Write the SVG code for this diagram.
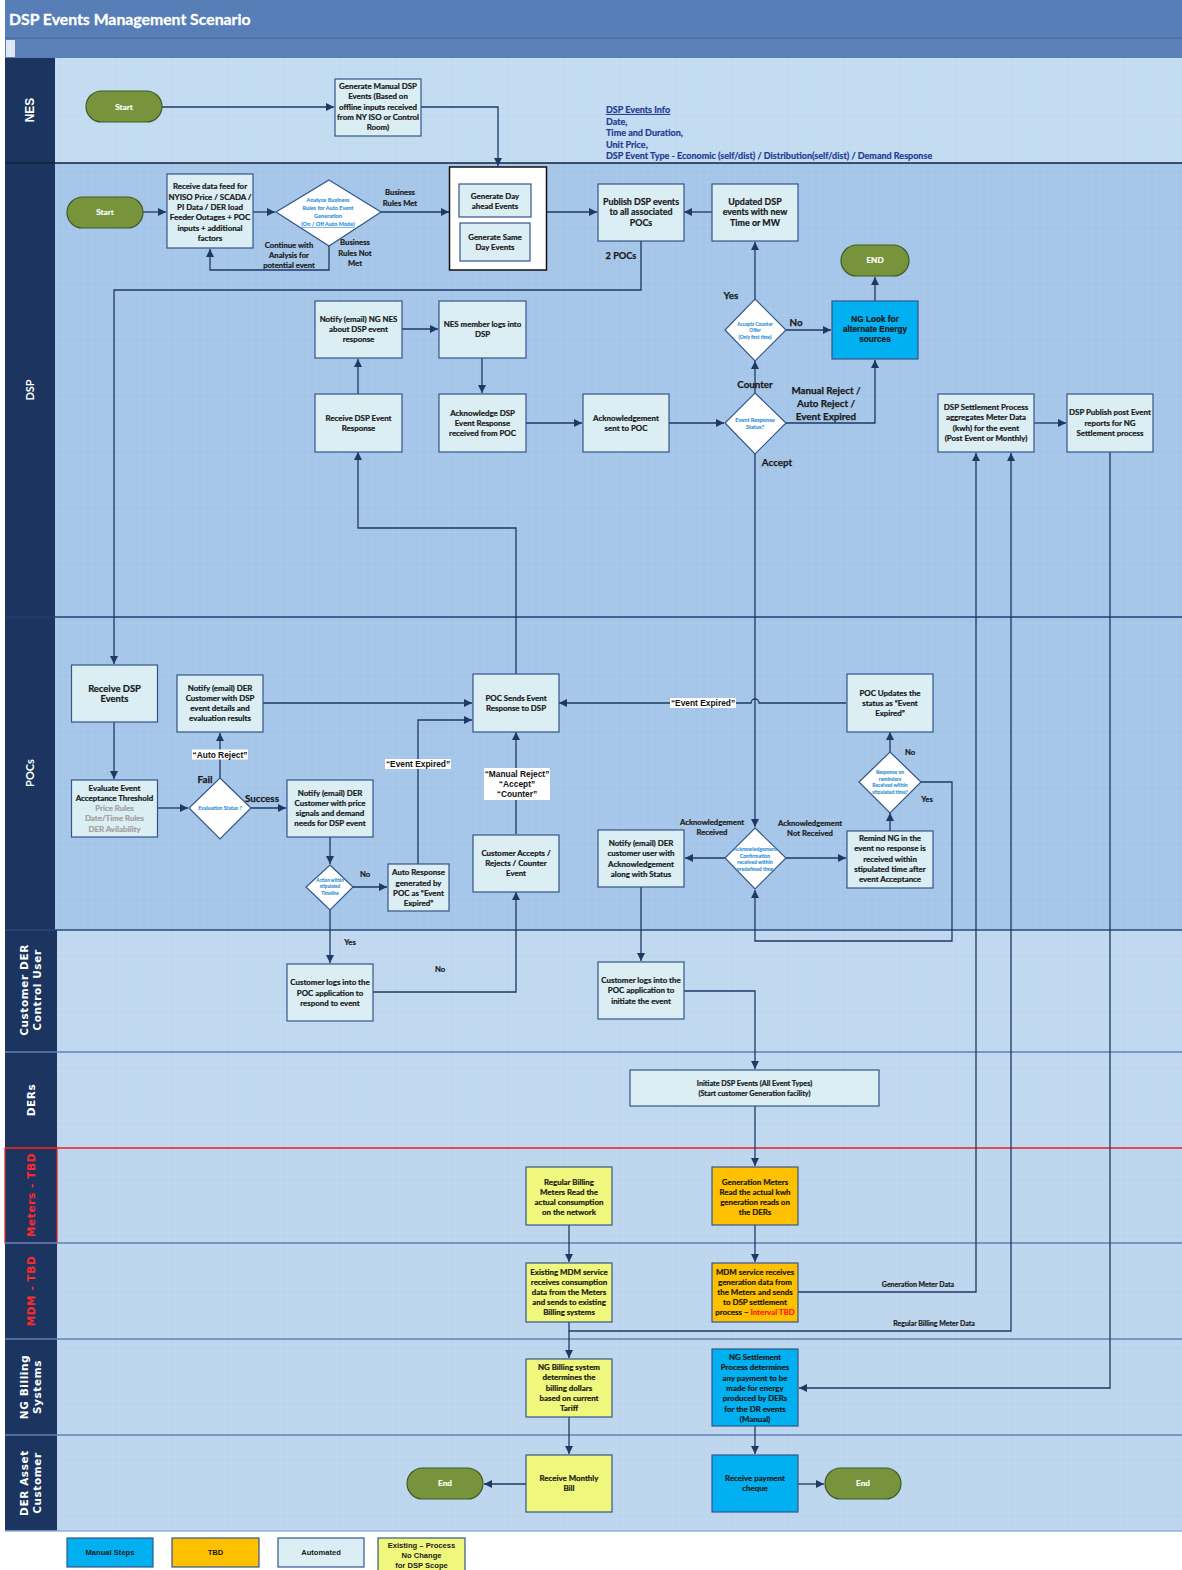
<svg xmlns="http://www.w3.org/2000/svg" width="1182" height="1570" viewBox="0 0 1182 1570">
<defs>
<style>
.box{fill:#dbeef4;stroke:#34558a;stroke-width:1.2}
.man{fill:#00b0f0}
.tbd{fill:#ffc000}
.ex{fill:#eff87c}
.dia{fill:#ffffff;stroke:#34558a;stroke-width:1.2}
.term{fill:#77933c;stroke:#3f5a28;stroke-width:1.2}
.t{font-family:Lato,"Liberation Sans",sans-serif;font-weight:bold;font-size:7.9px;fill:#1a1a1a;stroke:#1a1a1a;stroke-width:0.22;text-anchor:middle}
.tb{font-size:8.9px}
.tw{fill:#ffffff;stroke:#ffffff;font-size:8.2px}
.dt{font-family:Lato,"Liberation Sans",sans-serif;font-weight:bold;font-size:5.6px;fill:#2e8fd6;stroke:#2e8fd6;stroke-width:0.1;text-anchor:middle}
.gr{fill:#a0a0a0;stroke:#a0a0a0}
.lb{font-family:Lato,"Liberation Sans",sans-serif;font-weight:bold;font-size:9.8px;fill:#1a1a1a;stroke:#1a1a1a;stroke-width:0.25;text-anchor:middle}
.ls{font-family:Lato,"Liberation Sans",sans-serif;font-weight:bold;font-size:7.7px;fill:#1a1a1a;stroke:#1a1a1a;stroke-width:0.2;text-anchor:middle}
.ql{font-family:"Liberation Sans",Arial,sans-serif;font-weight:bold;font-size:8.4px;fill:#111;text-anchor:middle}
.c{fill:none;stroke:#1f3864;stroke-width:1.3;marker-end:url(#a)}
.hd{fill:#1b3560}
.hl{font-family:"DejaVu Sans",Verdana,sans-serif;font-weight:bold;font-size:10.5px;fill:#ffffff;text-anchor:middle;letter-spacing:0.6px}
.info{font-family:Lato,"Liberation Sans",sans-serif;font-weight:bold;font-size:9px;fill:#1f3a93;stroke:#1f3a93;stroke-width:0.2}
.lg{font-family:"Liberation Sans",Arial,sans-serif;font-weight:bold;font-size:7.6px;fill:#1a1a1a;text-anchor:middle}
</style>
<marker id="a" markerUnits="userSpaceOnUse" markerWidth="9" markerHeight="9" refX="8" refY="4" orient="auto">
<path d="M0,0 L8,4 L0,8 z" fill="#1f3864"/>
</marker>
<pattern id="g" width="7" height="7" patternUnits="userSpaceOnUse">
<path d="M7,0 H0 V7" fill="none" stroke="#ffffff" stroke-opacity="0.16" stroke-width="0.6"/>
</pattern>
</defs>

<rect x="0" y="0" width="1182" height="1570" fill="#ffffff"/>

<g id="title">
<rect x="5" y="0" width="1177" height="38" fill="#577eb6"/>
<rect x="5" y="38" width="1177" height="20" fill="#5a80b7"/>
<line x1="5" y1="38" x2="1182" y2="38" stroke="#46699e" stroke-width="1"/>
<rect x="6" y="40" width="9" height="17" fill="#dde8f4"/>
<text x="9" y="24.5" font-family="Lato,'Liberation Sans',sans-serif" font-weight="bold" font-size="15.8px" fill="#ffffff" stroke="#ffffff" stroke-width="0.3">DSP Events Management Scenario</text>
</g>

<g id="lanes">
<rect x="55" y="58" width="1127" height="105" fill="#c3dbf1"/>
<rect x="55" y="163" width="1127" height="454" fill="#a5c6e9"/>
<rect x="55" y="617" width="1127" height="313" fill="#a5c6e9"/>
<rect x="55" y="930" width="1127" height="122" fill="#c0d8ef"/>
<rect x="55" y="1052" width="1127" height="96" fill="#c0d8ef"/>
<rect x="55" y="1148" width="1127" height="95" fill="#bdd6ee"/>
<rect x="55" y="1243" width="1127" height="96" fill="#bdd6ee"/>
<rect x="55" y="1339" width="1127" height="96" fill="#bdd6ee"/>
<rect x="55" y="1435" width="1127" height="96" fill="#bdd6ee"/>
<rect x="55" y="58" width="1127" height="1473" fill="url(#g)"/>
<rect class="hd" x="5" y="58" width="50" height="105"/>
<rect class="hd" x="5" y="163" width="50" height="454"/>
<rect class="hd" x="5" y="617" width="50" height="313"/>
<rect class="hd" x="5" y="930" width="52" height="122"/>
<rect class="hd" x="5" y="1052" width="52" height="96"/>
<rect class="hd" x="5" y="1148" width="52" height="95" stroke="#e02424" stroke-width="1.2"/>
<rect class="hd" x="5" y="1243" width="52" height="96"/>
<rect class="hd" x="5" y="1339" width="52" height="96"/>
<rect class="hd" x="5" y="1435" width="52" height="96"/>
<line x1="5" y1="163" x2="1182" y2="163" stroke="#13223d" stroke-width="1.5"/>
<line x1="5" y1="617" x2="1182" y2="617" stroke="#1f3f73" stroke-width="1.5"/>
<line x1="5" y1="930" x2="1182" y2="930" stroke="#2a4a7c" stroke-width="1.5"/>
<line x1="5" y1="1052" x2="1182" y2="1052" stroke="#5f82b6" stroke-width="1.3"/>
<line x1="5" y1="1148" x2="1182" y2="1148" stroke="#e02424" stroke-width="1.3"/>
<line x1="5" y1="1243" x2="1182" y2="1243" stroke="#5f82b6" stroke-width="1.3"/>
<line x1="5" y1="1339" x2="1182" y2="1339" stroke="#5f82b6" stroke-width="1.3"/>
<line x1="5" y1="1435" x2="1182" y2="1435" stroke="#5f82b6" stroke-width="1.3"/>
<line x1="5" y1="1531" x2="1182" y2="1531" stroke="#8fb0d8" stroke-width="1.3"/>
<text transform="translate(30,110) rotate(-90)" class="hl" dy="4" style="font-family:'Liberation Sans',Arial,sans-serif;font-size:12px;letter-spacing:0">NES</text>
<text transform="translate(30,390) rotate(-90)" class="hl" dy="4" style="font-family:Lato,'Liberation Sans',sans-serif;font-size:11px;letter-spacing:0">DSP</text>
<text transform="translate(30,773) rotate(-90)" class="hl" dy="4" style="font-family:Lato,'Liberation Sans',sans-serif;font-size:11px;letter-spacing:0">POCs</text>
<text transform="translate(31,990) rotate(-90)" class="hl"><tspan x="0" y="-3">Customer DER</tspan><tspan x="0" y="10">Control User</tspan></text>
<text transform="translate(31,1100) rotate(-90)" class="hl" dy="4">DERs</text>
<text transform="translate(31,1195) rotate(-90)" class="hl" dy="4" style="fill:#ff2a2a">Meters - TBD</text>
<text transform="translate(31,1291) rotate(-90)" class="hl" dy="4" style="fill:#ff2a2a">MDM - TBD</text>
<text transform="translate(31,1387) rotate(-90)" class="hl"><tspan x="0" y="-3">NG Billing</tspan><tspan x="0" y="10">Systems</tspan></text>
<text transform="translate(31,1483) rotate(-90)" class="hl"><tspan x="0" y="-3">DER Asset</tspan><tspan x="0" y="10">Customer</tspan></text>
</g>

<g id="connectors">
<path class="c" d="M162,107 H334"/>
<path class="c" d="M421,107 H498 V166"/>
<path class="c" d="M143,212 H166"/>
<path class="c" d="M253,212 H275"/>
<path class="c" d="M381,212 H449"/>
<path class="c" d="M329,246 V270 H210 V249"/>
<path class="c" d="M546,212 H597"/>
<path class="c" d="M641,241 V290 H114 V664"/>
<path class="c" d="M712,212 H684"/>
<path class="c" d="M755,299 V242"/>
<path class="c" d="M786,330 H831"/>
<path class="c" d="M875,301 V277"/>
<path class="c" d="M755,393 V361"/>
<path class="c" d="M786,423 H875 V360"/>
<path class="c" d="M755,454 V827"/>
<path class="c" d="M358,394 V359"/>
<path class="c" d="M402,329 H438"/>
<path class="c" d="M482,358 V393"/>
<path class="c" d="M526,423 H582"/>
<path class="c" d="M669,423 H724"/>
<path class="c" d="M516,674 V528 H358 V452"/>
<path class="c" d="M1034,423 H1066"/>
<path class="c" d="M1110,452 V1388 H799"/>
<path class="c" d="M798,1292 H976 V453"/>
<path class="c" d="M569,1322 V1331 H1011 V453"/>
<path class="c" d="M569,1331 V1358"/>
<path class="c" d="M114,722 V779"/>
<path class="c" d="M158,808 H188"/>
<path class="c" d="M220,778 V733"/>
<path class="c" d="M263,703 H472"/>
<path class="c" d="M251,808 H286"/>
<path class="c" d="M330,837 V864"/>
<path class="c" d="M353,887 H387"/>
<path class="c" d="M418,864 V720 H472"/>
<path class="c" d="M330,910 V963"/>
<path class="c" d="M516,834 V732"/>
<path class="c" d="M373,992 H516 V892"/>
<path class="c" d="M846,703 H759 a4,4 0 0 0 -8,0 H559"/>
<path class="c" d="M725,858 H685"/>
<path class="c" d="M786,858 H846"/>
<path class="c" d="M890,831 V813"/>
<path class="c" d="M890,752 V732"/>
<path class="c" d="M921,782 H952 V941 H755 V890"/>
<path class="c" d="M641,887 V961"/>
<path class="c" d="M684,991 H755 V1069"/>
<path class="c" d="M755,1106 V1166"/>
<path class="c" d="M569,1225 V1262"/>
<path class="c" d="M755,1225 V1262"/>
<path class="c" d="M569,1417 V1454"/>
<path class="c" d="M755,1426 V1454"/>
<path class="c" d="M526,1484 H484"/>
<path class="c" d="M798,1484 H824"/>
</g>

<g id="labels">
<text class="ls"><tspan x="400" y="195">Business</tspan><tspan x="400" y="206">Rules Met</tspan></text>
<text class="ls"><tspan x="289" y="248">Continue with</tspan><tspan x="289" y="258">Analysis for</tspan><tspan x="289" y="268">potential event</tspan></text>
<text class="ls"><tspan x="355" y="245">Business</tspan><tspan x="355" y="255.5">Rules Not</tspan><tspan x="355" y="266">Met</tspan></text>
<text class="lb" x="621" y="258.5" style="font-size:9.2px">2 POCs</text>
<text class="lb" x="731" y="299">Yes</text>
<text class="lb" x="796" y="326">No</text>
<text class="lb" x="755" y="388">Counter</text>
<text class="lb"><tspan x="826" y="394">Manual Reject /</tspan><tspan x="826" y="407">Auto Reject /</tspan><tspan x="826" y="420">Event Expired</tspan></text>
<text class="lb" x="777" y="465.5">Accept</text>
<text class="lb" x="205" y="783">Fail</text>
<text class="lb" x="262" y="802">Success</text>
<rect x="192" y="749.5" width="56" height="10" fill="#ffffff"/>
<text class="ql" x="220" y="757.7">“Auto Reject”</text>
<rect x="385" y="759" width="66" height="10" fill="#ffffff"/>
<text class="ql" x="418" y="767.3">“Event Expired”</text>
<rect x="484" y="768" width="66" height="32" fill="#ffffff"/>
<text class="ql"><tspan x="517" y="776.5">“Manual Reject”</tspan><tspan x="517" y="786.5">“Accept”</tspan><tspan x="517" y="796.5">“Counter”</tspan></text>
<rect x="670" y="698" width="66" height="10" fill="#ffffff"/>
<text class="ql" x="703" y="706.3">“Event Expired”</text>
<text class="ls" x="365" y="877">No</text>
<text class="ls" x="350" y="945">Yes</text>
<text class="ls" x="440" y="972">No</text>
<text class="ls"><tspan x="712" y="825">Acknowledgement</tspan><tspan x="712" y="835">Received</tspan></text>
<text class="ls"><tspan x="810" y="825.5">Acknowledgement</tspan><tspan x="810" y="835.5">Not Received</tspan></text>
<text class="ls" x="910" y="754.5">No</text>
<text class="ls" x="927" y="802">Yes</text>
<text class="ls" x="918" y="1287" style="font-size:7px">Generation Meter Data</text>
<text class="ls" x="934" y="1326" style="font-size:7px">Regular Billing Meter Data</text>
<text class="info"><tspan x="606" y="113" text-decoration="underline">DSP Events Info</tspan><tspan x="606" y="124.5">Date,</tspan><tspan x="606" y="136">Time and Duration,</tspan><tspan x="606" y="147.5">Unit Price,</tspan><tspan x="606" y="159">DSP Event Type  - Economic (self/dist) / Distribution(self/dist) / Demand Response</tspan></text>
</g>

<g id="n-nes-start">
<rect class="term" x="86" y="91" width="76" height="31" rx="15.5"/>
<text class="t tw" x="124" y="109.5">Start</text>
</g>
<g id="n-gen-manual">
<rect class="box" x="335" y="79" width="86" height="57"/>
<text class="t"><tspan x="378" y="89">Generate Manual DSP</tspan><tspan x="378" y="99.3">Events (Based on</tspan><tspan x="378" y="109.6">offline inputs received</tspan><tspan x="378" y="119.9">from NY ISO or Control</tspan><tspan x="378" y="130.2">Room)</tspan></text>
</g>

<g id="n-dsp-start">
<rect class="term" x="67" y="197" width="76" height="31" rx="15.5"/>
<text class="t tw" x="105" y="215">Start</text>
</g>
<g id="n-receive-feed">
<rect class="box" x="167" y="174" width="86" height="74"/>
<text class="t"><tspan x="210" y="189.4">Receive data feed for</tspan><tspan x="210" y="199.7">NYISO Price / SCADA /</tspan><tspan x="210" y="210">PI Data / DER load</tspan><tspan x="210" y="220.3">Feeder Outages + POC</tspan><tspan x="210" y="230.6">inputs + additional</tspan><tspan x="210" y="240.9">factors</tspan></text>
</g>
<g id="n-analyze">
<polygon class="dia" points="329,180 381,212 329,246 276,212"/>
<text class="dt"><tspan x="328" y="202">Analyze Business</tspan><tspan x="328" y="210">Rules for Auto Event</tspan><tspan x="328" y="218">Generation</tspan><tspan x="328" y="226" text-decoration="underline">(On / Off Auto Mode)</tspan></text>
</g>
<g id="n-generate">
<rect x="449.5" y="167" width="97" height="103" fill="#ffffff" stroke="#111111" stroke-width="1.5"/>
<rect class="box" x="459" y="184" width="72" height="33"/>
<text class="t"><tspan x="495" y="198.5">Generate Day</tspan><tspan x="495" y="208.5">ahead Events</tspan></text>
<rect class="box" x="460" y="223" width="70" height="38"/>
<text class="t"><tspan x="495" y="239.5">Generate Same</tspan><tspan x="495" y="249.5">Day Events</tspan></text>
</g>
<g id="n-publish">
<rect class="box" x="598" y="184" width="86" height="57"/>
<text class="t tb"><tspan x="641" y="204.5">Publish DSP events</tspan><tspan x="641" y="215">to all associated</tspan><tspan x="641" y="225.5">POCs</tspan></text>
</g>
<g id="n-updated">
<rect class="box" x="712" y="184" width="86" height="57"/>
<text class="t tb"><tspan x="755" y="204.5">Updated DSP</tspan><tspan x="755" y="215">events with new</tspan><tspan x="755" y="225.5">Time or MW</tspan></text>
</g>
<g id="n-end-dsp">
<rect class="term" x="841" y="245" width="68" height="31" rx="15.5"/>
<text class="t tw" x="875" y="263">END</text>
</g>
<g id="n-accept-counter">
<polygon class="dia" points="755,299 786,330 755,361 725,330"/>
<text class="dt" style="font-size:4.8px"><tspan x="755" y="325.5">Accepts Counter</tspan><tspan x="755" y="331.5">Offer</tspan><tspan x="755" y="338.5">(Only first time)</tspan></text>
</g>
<g id="n-ng-look">
<rect class="box man" x="832" y="301" width="86" height="58"/>
<text class="t tb" style="font-family:'Liberation Sans',Arial,sans-serif;font-size:8.2px"><tspan x="875" y="322">NG Look for</tspan><tspan x="875" y="332">alternate Energy</tspan><tspan x="875" y="342">sources</tspan></text>
</g>
<g id="n-ers">
<polygon class="dia" points="755,393 786,423 755,454 725,423"/>
<text class="dt"><tspan x="755" y="421.5">Event Response</tspan><tspan x="755" y="429">Status?</tspan></text>
</g>
<g id="n-notify-nes">
<rect class="box" x="315" y="301" width="87" height="57"/>
<text class="t"><tspan x="358.5" y="321.5">Notify (email) NG NES</tspan><tspan x="358.5" y="331.5">about DSP event</tspan><tspan x="358.5" y="341.5">response</tspan></text>
</g>
<g id="n-nes-member">
<rect class="box" x="439" y="301" width="87" height="57"/>
<text class="t"><tspan x="482.5" y="327">NES member logs into</tspan><tspan x="482.5" y="337">DSP</tspan></text>
</g>
<g id="n-receive-response">
<rect class="box" x="315" y="394" width="87" height="58"/>
<text class="t"><tspan x="358.5" y="421">Receive DSP Event</tspan><tspan x="358.5" y="431">Response</tspan></text>
</g>
<g id="n-ack-dsp">
<rect class="box" x="439" y="394" width="87" height="58"/>
<text class="t"><tspan x="482.5" y="415.5">Acknowledge DSP</tspan><tspan x="482.5" y="425.5">Event Response</tspan><tspan x="482.5" y="435.5">received from POC</tspan></text>
</g>
<g id="n-ack-sent">
<rect class="box" x="583" y="394" width="86" height="58"/>
<text class="t"><tspan x="626" y="421">Acknowledgement</tspan><tspan x="626" y="431">sent to POC</tspan></text>
</g>
<g id="n-settlement">
<rect class="box" x="938" y="394" width="96" height="58"/>
<text class="t"><tspan x="986" y="410">DSP Settlement Process</tspan><tspan x="986" y="420.3">aggregates Meter Data</tspan><tspan x="986" y="430.6">(kwh) for the event</tspan><tspan x="986" y="440.9">(Post Event or Monthly)</tspan></text>
</g>
<g id="n-publish-post">
<rect class="box" x="1067" y="394" width="86" height="58"/>
<text class="t"><tspan x="1110" y="415">DSP Publish post Event</tspan><tspan x="1110" y="425.5">reports for NG</tspan><tspan x="1110" y="436">Settlement process</tspan></text>
</g>

<g id="n-receive-events">
<rect class="box" x="71.5" y="665" width="86" height="57"/>
<text class="t" style="font-size:9.4px"><tspan x="114.5" y="691.5">Receive DSP</tspan><tspan x="114.5" y="701.5">Events</tspan></text>
</g>
<g id="n-evaluate">
<rect class="box" x="71.5" y="780" width="86" height="57"/>
<text class="t"><tspan x="114.5" y="791">Evaluate Event</tspan><tspan x="114.5" y="801">Acceptance Threshold</tspan><tspan class="gr" x="114.5" y="811">Price Rules</tspan><tspan class="gr" x="114.5" y="821">Date/Time Rules</tspan><tspan class="gr" x="114.5" y="831.5">DER Avilability</tspan></text>
</g>
<g id="n-eval-status">
<polygon class="dia" points="220,778 251,808 220,839 189,808"/>
<text class="dt" style="font-size:5.2px" x="220" y="810">Evaluation Status ?</text>
</g>
<g id="n-notify-details">
<rect class="box" x="177" y="675" width="86" height="57"/>
<text class="t"><tspan x="220" y="691">Notify (email) DER</tspan><tspan x="220" y="701">Customer with DSP</tspan><tspan x="220" y="711">event details and</tspan><tspan x="220" y="721">evaluation results</tspan></text>
</g>
<g id="n-notify-price">
<rect class="box" x="287" y="780" width="86" height="57"/>
<text class="t"><tspan x="330" y="796">Notify (email) DER</tspan><tspan x="330" y="806">Customer with price</tspan><tspan x="330" y="816">signals and demand</tspan><tspan x="330" y="826">needs for DSP event</tspan></text>
</g>
<g id="n-action">
<polygon class="dia" points="330,865 353,887 330,910 306,887"/>
<text class="dt" style="font-size:4.6px"><tspan x="330" y="882">Action within</tspan><tspan x="330" y="888">stipulated</tspan><tspan x="330" y="894.5">Timeline</tspan></text>
</g>
<g id="n-auto-response">
<rect class="box" x="388" y="864" width="61" height="47"/>
<text class="t"><tspan x="418.5" y="875">Auto Response</tspan><tspan x="418.5" y="885.5">generated by</tspan><tspan x="418.5" y="896">POC as “Event</tspan><tspan x="418.5" y="906">Expired”</tspan></text>
</g>
<g id="n-poc-sends">
<rect class="box" x="473" y="674" width="86" height="58"/>
<text class="t"><tspan x="516" y="701">POC Sends Event</tspan><tspan x="516" y="711">Response to DSP</tspan></text>
</g>
<g id="n-customer-accepts">
<rect class="box" x="473" y="835" width="86" height="57"/>
<text class="t"><tspan x="516" y="856">Customer Accepts /</tspan><tspan x="516" y="866">Rejects / Counter</tspan><tspan x="516" y="876">Event</tspan></text>
</g>
<g id="n-notify-ack">
<rect class="box" x="598" y="830" width="86" height="57"/>
<text class="t"><tspan x="641" y="846">Notify (email) DER</tspan><tspan x="641" y="856">customer user with</tspan><tspan x="641" y="866.5">Acknowledgement</tspan><tspan x="641" y="877">along with Status</tspan></text>
</g>
<g id="n-ack-confirm">
<polygon class="dia" points="755,828 786,858 755,889 725,858"/>
<text class="dt" style="font-size:5.2px"><tspan x="755" y="851">Acknowledgement</tspan><tspan x="755" y="857.5">Confirmation</tspan><tspan x="755" y="864">received within</tspan><tspan x="755" y="870.5">predefined time</tspan></text>
</g>
<g id="n-remind">
<rect class="box" x="847" y="831" width="86" height="57"/>
<text class="t"><tspan x="890" y="841">Remind NG in the</tspan><tspan x="890" y="851">event no response is</tspan><tspan x="890" y="861.5">received within</tspan><tspan x="890" y="871.5">stipulated time after</tspan><tspan x="890" y="882">event Acceptance</tspan></text>
</g>
<g id="n-response-reminders">
<polygon class="dia" points="890,752 921,782 890,813 859,782"/>
<text class="dt" style="font-size:5px"><tspan x="890" y="774">Response on</tspan><tspan x="890" y="780.5">reminders</tspan><tspan x="890" y="787">Received within</tspan><tspan x="890" y="793.5">stipulated time?</tspan></text>
</g>
<g id="n-poc-updates">
<rect class="box" x="847" y="674" width="86" height="58"/>
<text class="t"><tspan x="890" y="696">POC Updates the</tspan><tspan x="890" y="706">status as “Event</tspan><tspan x="890" y="716">Expired”</tspan></text>
</g>

<g id="n-customer-respond">
<rect class="box" x="287" y="964" width="86" height="57"/>
<text class="t"><tspan x="330" y="985">Customer logs into the</tspan><tspan x="330" y="995.5">POC application to</tspan><tspan x="330" y="1006">respond to event</tspan></text>
</g>
<g id="n-customer-initiate">
<rect class="box" x="598" y="962" width="86" height="57"/>
<text class="t"><tspan x="641" y="982.5">Customer logs into the</tspan><tspan x="641" y="993">POC application to</tspan><tspan x="641" y="1003.5">initiate the event</tspan></text>
</g>

<g id="n-initiate-dsp">
<rect class="box" x="630" y="1070" width="249" height="36"/>
<text class="t" style="font-size:7.2px"><tspan x="754.5" y="1085.5">Initiate DSP Events (All Event Types)</tspan><tspan x="754.5" y="1096">(Start customer Generation facility)</tspan></text>
</g>

<g id="n-regular-billing">
<rect class="box ex" x="526" y="1167" width="86" height="58"/>
<text class="t"><tspan x="569" y="1184.5">Regular Billing</tspan><tspan x="569" y="1194.5">Meters Read the</tspan><tspan x="569" y="1204.5">actual consumption</tspan><tspan x="569" y="1214.5">on the network</tspan></text>
</g>
<g id="n-generation-meters">
<rect class="box tbd" x="712" y="1167" width="86" height="58"/>
<text class="t"><tspan x="755" y="1184.5">Generation Meters</tspan><tspan x="755" y="1194.5">Read the actual kwh</tspan><tspan x="755" y="1204.5">generation reads on</tspan><tspan x="755" y="1214.5">the DERs</tspan></text>
</g>
<g id="n-existing-mdm">
<rect class="box ex" x="526" y="1263" width="86" height="59"/>
<text class="t"><tspan x="569" y="1274.5">Existing MDM service</tspan><tspan x="569" y="1284.5">receives consumption</tspan><tspan x="569" y="1294.5">data from the Meters</tspan><tspan x="569" y="1304.8">and sends to existing</tspan><tspan x="569" y="1315">Billing systems</tspan></text>
</g>
<g id="n-mdm-service">
<rect class="box tbd" x="712" y="1263" width="86" height="59"/>
<text class="t"><tspan x="755" y="1274.5">MDM service receives</tspan><tspan x="755" y="1284.5">generation data from</tspan><tspan x="755" y="1294.5">the Meters and sends</tspan><tspan x="755" y="1304.8">to DSP settlement</tspan><tspan x="755" y="1315">process – <tspan fill="#ff1a1a" stroke="#ff1a1a">Interval TBD</tspan></tspan></text>
</g>
<g id="n-ng-billing">
<rect class="box ex" x="526" y="1359" width="86" height="58"/>
<text class="t"><tspan x="569" y="1370">NG Billing system</tspan><tspan x="569" y="1380.3">determines the</tspan><tspan x="569" y="1390.6">billing dollars</tspan><tspan x="569" y="1400.9">based on current</tspan><tspan x="569" y="1411.2">Tariff</tspan></text>
</g>
<g id="n-ng-settlement">
<rect class="box man" x="712" y="1349" width="86" height="77"/>
<text class="t"><tspan x="755" y="1360">NG Settlement</tspan><tspan x="755" y="1370.3">Process determines</tspan><tspan x="755" y="1380.6">any payment to be</tspan><tspan x="755" y="1390.9">made for energy</tspan><tspan x="755" y="1401.2">produced by DERs</tspan><tspan x="755" y="1411.5">for the DR events</tspan><tspan x="755" y="1421.8">(Manual)</tspan></text>
</g>
<g id="n-monthly-bill">
<rect class="box ex" x="526" y="1455" width="86" height="57"/>
<text class="t"><tspan x="569" y="1481">Receive Monthly</tspan><tspan x="569" y="1491">Bill</tspan></text>
</g>
<g id="n-end-bill">
<rect class="term" x="407" y="1468" width="76" height="31" rx="15.5"/>
<text class="t tw" x="445" y="1486">End</text>
</g>
<g id="n-payment">
<rect class="box man" x="712" y="1455" width="86" height="57"/>
<text class="t"><tspan x="755" y="1481">Receive payment</tspan><tspan x="755" y="1491">cheque</tspan></text>
</g>
<g id="n-end-payment">
<rect class="term" x="825" y="1468" width="76" height="31" rx="15.5"/>
<text class="t tw" x="863" y="1486">End</text>
</g>

<g id="legend">
<rect class="box man" x="67" y="1538" width="86" height="29"/>
<text class="lg" x="110" y="1555">Manual Steps</text>
<rect class="box tbd" x="172" y="1538" width="87" height="29"/>
<text class="lg" x="215.5" y="1555">TBD</text>
<rect class="box" x="278" y="1538" width="86" height="29"/>
<text class="lg" x="321" y="1555">Automated</text>
<rect class="box ex" x="378" y="1538" width="87" height="34"/>
<text class="lg"><tspan x="421.5" y="1548">Existing – Process</tspan><tspan x="421.5" y="1558">No Change</tspan><tspan x="421.5" y="1568">for DSP Scope</tspan></text>
</g>
</svg>
